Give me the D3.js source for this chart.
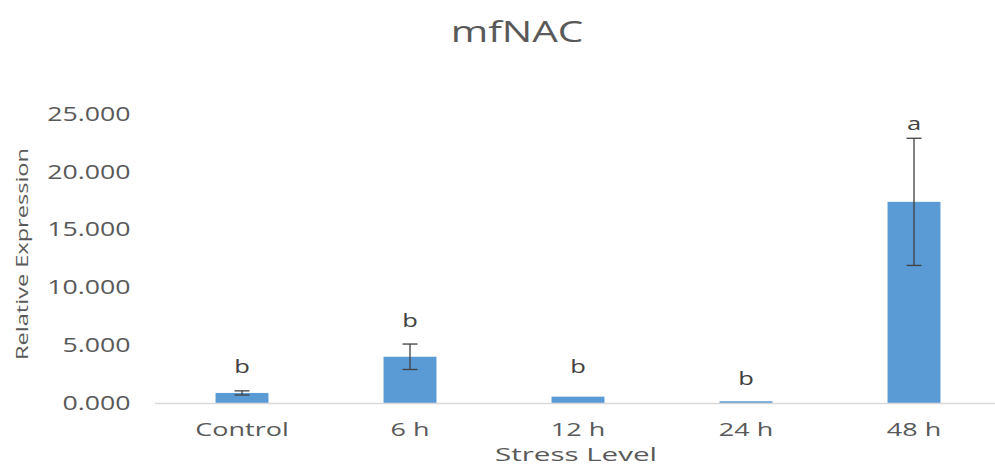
<!DOCTYPE html>
<html>
<head>
<meta charset="utf-8">
<script src="https://cdn.jsdelivr.net/npm/d3@7"></script>
<style>
  html, body { margin: 0; padding: 0; background: #fff; }
  svg { display: block; }
  text { font-family: "Open Sans", "Noto Sans", sans-serif; }
</style>
</head>
<body>
<svg id="chart" width="995" height="466"></svg>
<script>
// ---- data ----
const categories = ["Control", "6 h", "12 h", "24 h", "48 h"];
const values = [0.87, 4.0, 0.55, 0.15, 17.4];
const errors = [0.18, 1.1, 0.0, 0.0, 5.5];
const sigLetters = ["b", "b", "b", "b", "a"];
const sigLetterAt = [2.6, 6.6, 2.6, 1.6, 23.6];
const yTicks = [0, 5, 10, 15, 20, 25];
const title = "mfNAC";
const xTitle = "Stress Level";
const yTitle = "Relative Expression";

// ---- layout ----
const W = 995, H = 466;
const sx = 1.42; // text in the original is stretched along its reading direction
const x0 = 158, x1 = 998;
const yBase = 403, yTop = 114;
const textCol = "#595959", darkCol = "#404040";

const svg = d3.select("#chart");
const g = svg.append("g");

const x = d3.scaleBand().domain(categories).range([x0, x1])
  .paddingInner(0.685).paddingOuter(0.3425);
const y = d3.scaleLinear().domain([0, 25]).range([yBase, yTop]);

function stretchedText(parent, tx, ty, str, size, opts = {}) {
  const k = opts.sx || sx;
  const rot = opts.rotate ? ` rotate(${opts.rotate})` : "";
  const t = parent.append("text")
    .attr("transform", `translate(${tx},${ty})${rot} scale(${k},1)`)
    .attr("text-anchor", opts.anchor || "middle")
    .attr("font-size", size)
    .attr("fill", opts.fill || textCol)
    .text(str);
  if (opts.length) t.attr("textLength", opts.length / k).attr("lengthAdjust", "spacingAndGlyphs");
  return t;
}

// title
stretchedText(g, 517, 42, title, 28.5);

// y axis tick labels (positions from the axis scale)
const ya = g.append("g").attr("class", "y-axis");
yTicks.forEach(v => {
  stretchedText(ya, 130.5, y(v) + 6.8, d3.format(".3f")(v), 19.5, { anchor: "end", sx: 1.37 });
});

// bars
g.selectAll("rect.bar").data(categories).join("rect")
  .attr("class", "bar")
  .attr("x", d => x(d)).attr("width", x.bandwidth())
  .attr("y", (d, i) => y(values[i]))
  .attr("height", (d, i) => y(0) - y(values[i]))
  .attr("fill", "#5b9bd5");

// x axis line
g.append("line").attr("x1", 155).attr("x2", W).attr("y1", yBase + 0.5).attr("y2", yBase + 0.5)
  .attr("stroke", "#d9d9d9").attr("stroke-width", 1.3);

// x tick labels
const xa = g.append("g").attr("class", "x-axis");
categories.forEach(c => {
  stretchedText(xa, x(c) + x.bandwidth() / 2, 436, c, 18, { sx: 1.5 });
});

// error bars
const capW = 15;
categories.forEach((c, i) => {
  if (!(errors[i] > 0)) return;
  const cx = x(c) + x.bandwidth() / 2;
  const lo = y(values[i] - errors[i]), hi = y(values[i] + errors[i]);
  g.append("line").attr("x1", cx).attr("x2", cx).attr("y1", lo).attr("y2", hi)
    .attr("stroke", darkCol).attr("stroke-width", 1.3);
  [lo, hi].forEach(v => g.append("line")
    .attr("x1", cx - capW / 2).attr("x2", cx + capW / 2)
    .attr("y1", v).attr("y2", v).attr("stroke", darkCol).attr("stroke-width", 1.3));
});

// significance letters
categories.forEach((c, i) => {
  stretchedText(g, x(c) + x.bandwidth() / 2, y(sigLetterAt[i]), sigLetters[i], 18, { fill: darkCol });
});

// axis titles
stretchedText(g, 576, 460.5, xTitle, 18, { length: 162 });
stretchedText(g, 28, 254, yTitle, 16.5, { rotate: -90, length: 212 });
</script>
</body>
</html>
